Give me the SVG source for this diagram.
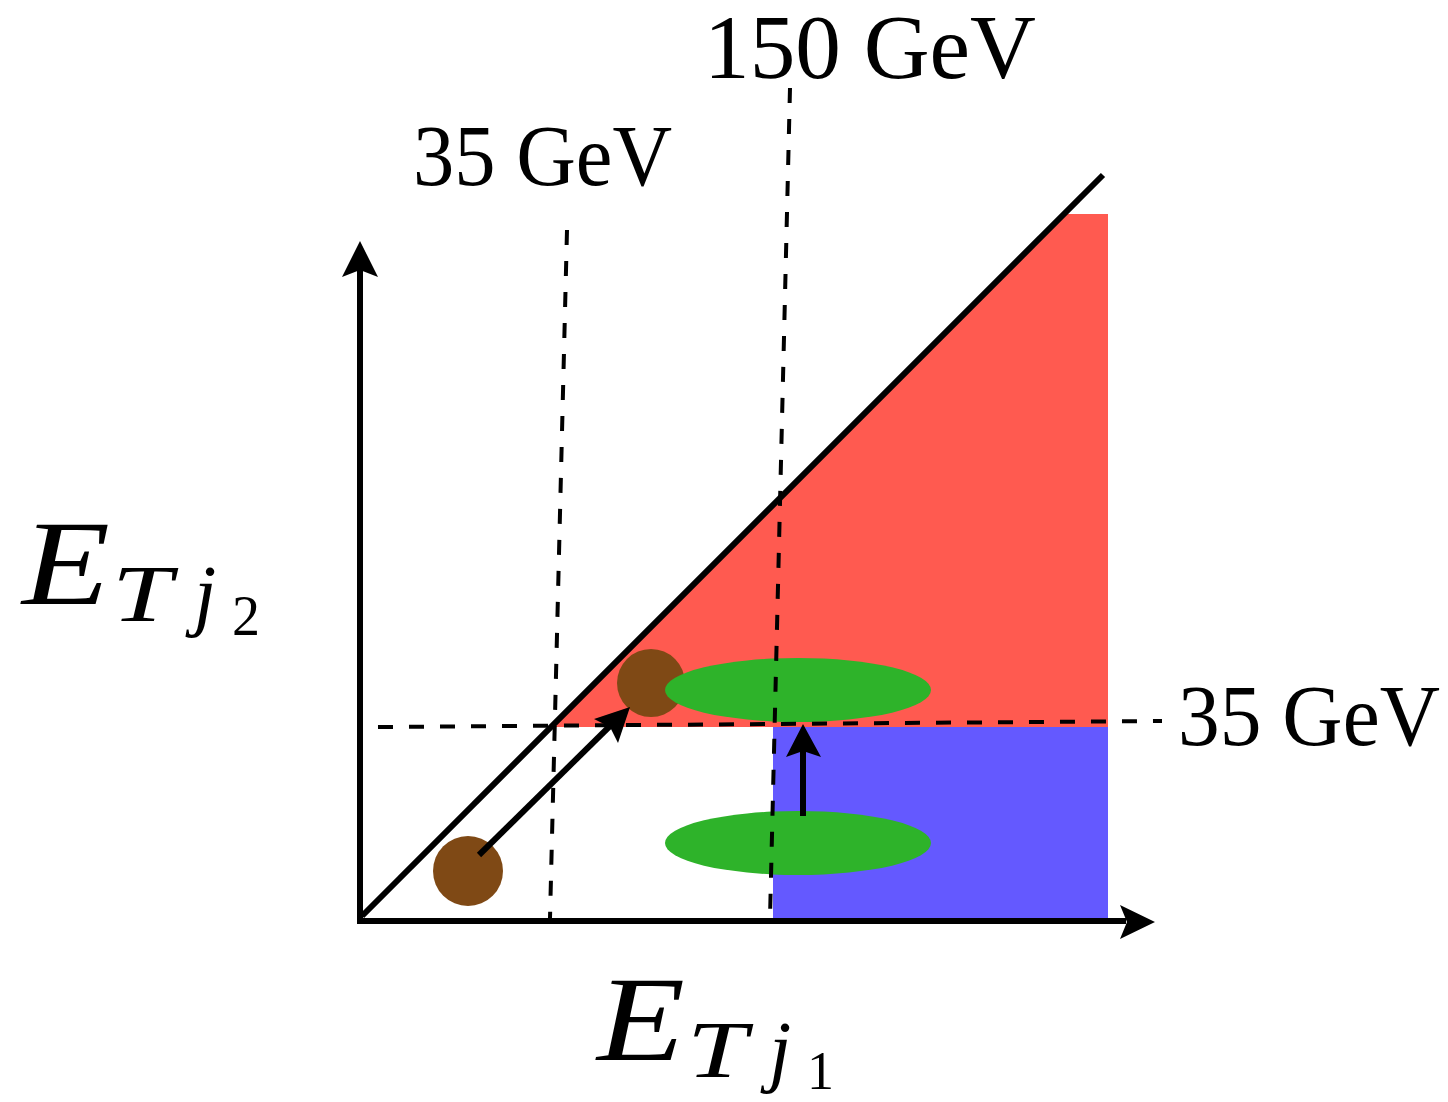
<svg xmlns="http://www.w3.org/2000/svg" width="1448" height="1102" viewBox="0 0 1448 1102">
<style>
.dash{stroke:#000;stroke-width:4;stroke-dasharray:15 16;fill:none}
.solid{stroke:#000;stroke-width:6;fill:none}
.head{fill:#000}
.lbl{font-family:'Liberation Serif','Times New Roman',serif;fill:#000}
.it{font-style:italic}
</style>
<rect width="1448" height="1102" fill="#fff"/>
<g id="regions">
<polygon id="red-region" points="553,727 1066,214 1108,214 1108,727" fill="#ff5a50"/>
<rect id="blue-region" x="773" y="727" width="335" height="191" fill="#6459ff"/>
</g>
<g id="blobs">
<circle id="brown-bottom" cx="468" cy="871" r="35" fill="#7f4915"/>
<circle id="brown-top" cx="651" cy="683" r="34" fill="#7f4915"/>
<ellipse id="green-top" cx="798" cy="690" rx="133" ry="32" fill="#2eb32a"/>
<ellipse id="green-bottom" cx="798" cy="843" rx="133" ry="32" fill="#2eb32a"/>
</g>
<g id="connectors">
<line class="dash" x1="567" y1="230" x2="550" y2="918"/>
<line class="dash" x1="790" y1="88" x2="770" y2="918"/>
<line class="dash" x1="378" y1="727" x2="1162" y2="721"/>
<line class="solid" x1="362" y1="916" x2="1103" y2="175"/>
<line class="solid" x1="360" y1="923" x2="360" y2="268"/>
<polygon class="head" points="360,241 378,277 360,270 342,277"/>
<line class="solid" x1="357" y1="921" x2="1126" y2="921"/>
<polygon class="head" points="1155,922 1120,905 1127,922 1120,939"/>
<line class="solid" x1="479" y1="855" x2="612" y2="724"/>
<polygon class="head" points="630,707 618,743 610,727 594,719"/>
<line class="solid" x1="803" y1="816" x2="803" y2="748"/>
<polygon class="head" points="803,724 821,757 803,751 786,757"/>
</g>
<g id="labels">
<text class="lbl" x="413" y="185" font-size="86" textLength="259" lengthAdjust="spacingAndGlyphs">35 GeV</text>
<text class="lbl" x="704" y="78" font-size="90" textLength="332" lengthAdjust="spacingAndGlyphs">150 GeV</text>
<text class="lbl" x="1178" y="745" font-size="86" textLength="262" lengthAdjust="spacingAndGlyphs">35 GeV</text>
<g id="label-y" transform="translate(22,604)">
<text class="lbl it" x="0" y="0" font-size="120" textLength="88" lengthAdjust="spacingAndGlyphs">E</text>
<text class="lbl it" x="90" y="17" font-size="80" textLength="60" lengthAdjust="spacingAndGlyphs">T</text>
<text class="lbl it" x="172" y="17" font-size="80">j</text>
<text class="lbl" x="210" y="31" font-size="56">2</text>
</g>
<g id="label-x" transform="translate(597,1060)">
<text class="lbl it" x="0" y="0" font-size="120" textLength="88" lengthAdjust="spacingAndGlyphs">E</text>
<text class="lbl it" x="90" y="17" font-size="80" textLength="60" lengthAdjust="spacingAndGlyphs">T</text>
<text class="lbl it" x="172" y="17" font-size="80">j</text>
<text class="lbl" x="210" y="29" font-size="54">1</text>
</g>
</g>
</svg>
